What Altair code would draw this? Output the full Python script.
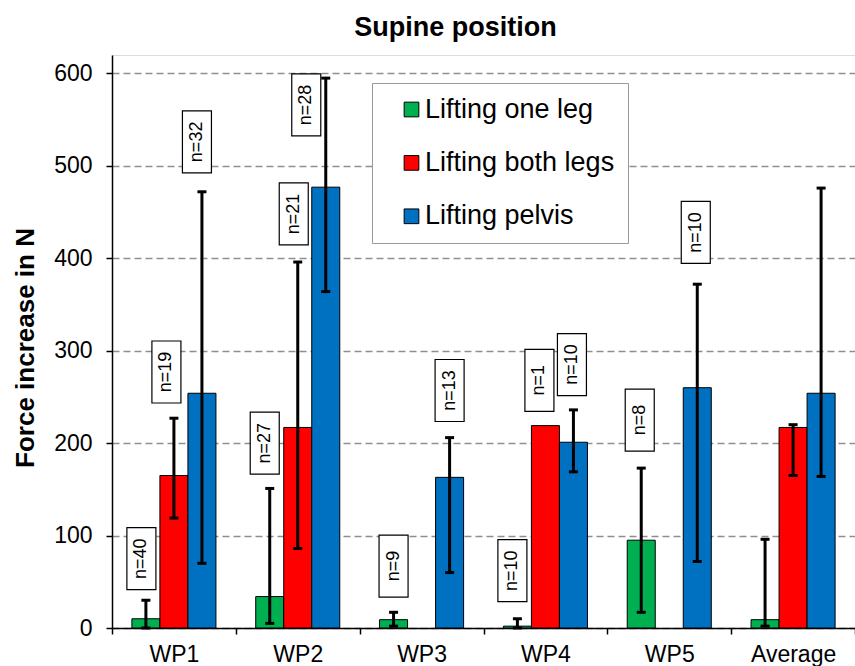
import altair as alt
import pandas as pd

# ---------------- data ----------------
groups = ["WP1", "WP2", "WP3", "WP4", "WP5", "Average"]
series = ["Lifting one leg", "Lifting both legs", "Lifting pelvis"]
colors = ["#00B050", "#FF0000", "#0070C0"]

one_leg_mean = [10, 34, 9, 2, 95, 9]
one_leg_low = [0, 5, 2, 0, 17, 2]
one_leg_high = [30, 151, 17, 10, 173, 96]

both_legs_mean = [165, 217, None, 219, None, 217]
both_legs_low = [119, 86, None, None, None, 165]
both_legs_high = [227, 396, None, None, None, 220]

pelvis_mean = [254, 477, 163, 201, 260, 254]
pelvis_low = [70, 364, 60, 169, 72, 164]
pelvis_high = [472, 595, 206, 236, 372, 476]

label_group = ["WP1", "WP1", "WP1", "WP2", "WP2", "WP2", "WP3", "WP3",
               "WP4", "WP4", "WP4", "WP5", "WP5"]
label_series = [0, 1, 2, 0, 1, 2, 0, 2, 0, 1, 2, 0, 2]
label_text = ["n=40", "n=19", "n=32", "n=27", "n=21", "n=28", "n=9", "n=13",
              "n=10", "n=1", "n=10", "n=8", "n=10"]
label_y = [75, 277, 526, 200, 448, 566, 67, 257, 62, 268, 285, 225, 428]
label_shift_px = [-4.5, -7.5, -5, -5, -4, -19.5, 0, 0, -5, -6, -1.5, -1.5, -1.5]

# ---------------- layout constants ----------------
PLOT_W = 743
PLOT_H = 573
FONT = "Liberation Sans, Arial, sans-serif"
OFFSET_PAD = 0.71
STEP = PLOT_W / len(groups)
BAR_FRAC = 1.0 / (len(series) + 2 * OFFSET_PAD)

# ---------------- tables ----------------
rows = []
for s, means, lows, highs in [
    (series[0], one_leg_mean, one_leg_low, one_leg_high),
    (series[1], both_legs_mean, both_legs_low, both_legs_high),
    (series[2], pelvis_mean, pelvis_low, pelvis_high),
]:
    for g, m, lo, hi in zip(groups, means, lows, highs):
        rows.append({"group": g, "series": s, "mean": m, "low": lo, "high": hi})
df = pd.DataFrame(rows)
bars_df = df.dropna(subset=["mean"])
err_df = df.dropna(subset=["low", "high"])

lab_rows = []
for g, si, t, y, sh in zip(label_group, label_series, label_text, label_y, label_shift_px):
    lx = groups.index(g) + 0.5 + (si - 1) * BAR_FRAC + sh / STEP
    lab_rows.append({"lx": lx, "ly": y, "text": t})
lab_df = pd.DataFrame(lab_rows)

# ---------------- encodings ----------------
y_scale = alt.Scale(domain=[0, 620], nice=False, zero=True)

x_enc = alt.X(
    "group:N",
    sort=groups,
    scale=alt.Scale(domain=groups, paddingInner=0, paddingOuter=0),
    axis=alt.Axis(
        title=None, tickBand="extent", labelAngle=0, labelFontSize=23,
        labelFont=FONT, labelColor="black", tickSize=6, tickColor="black",
        tickWidth=1.5, domainColor="black", domainWidth=1.5, labelPadding=9,
        grid=False,
    ),
)
xoff_enc = alt.XOffset(
    "series:N", sort=series,
    scale=alt.Scale(domain=series, paddingInner=0, paddingOuter=OFFSET_PAD),
)

bars = alt.Chart(bars_df).mark_bar(stroke="black", strokeWidth=1, opacity=1).encode(
    x=x_enc,
    xOffset=xoff_enc,
    y=alt.Y(
        "mean:Q", scale=y_scale,
        axis=alt.Axis(
            title="Force increase in N", values=[0, 100, 200, 300, 400, 500, 600],
            labelFontSize=23, labelFont=FONT, labelColor="black", labelPadding=14,
            tickSize=6, tickColor="black", tickWidth=1.5, domainColor="black",
            domainWidth=1.5, grid=True, gridColor="#8f8f8f", gridDash=[7, 4],
            gridWidth=1.3, titleFontSize=26, titleFont=FONT, titleFontWeight="bold",
            titleColor="black", titleAngle=270, titleAlign="center",
            titleBaseline="middle", titleX=-87, titleY=PLOT_H / 2 + 6,
        ),
    ),
    color=alt.Color(
        "series:N",
        scale=alt.Scale(domain=series, range=colors),
        legend=alt.Legend(
            title=None, orient="none", legendX=260, legendY=28,
            symbolType="square", symbolSize=216, symbolStrokeColor="black",
            symbolStrokeWidth=1, symbolOffset=13, labelOffset=0,
            labelFontSize=27, labelFont=FONT, labelColor="black", labelLimit=400,
            padding=13, rowPadding=25.4, strokeColor="#999999",
            fillColor="white",
        ),
    ),
)

rules = alt.Chart(err_df).mark_rule(color="black", strokeWidth=3).encode(
    x=alt.X("group:N", sort=groups), xOffset=xoff_enc,
    y=alt.Y("low:Q", scale=y_scale), y2="high:Q",
)
caps_hi = alt.Chart(err_df).mark_tick(color="black", thickness=3, size=9, opacity=1).encode(
    x=alt.X("group:N", sort=groups), xOffset=xoff_enc,
    y=alt.Y("high:Q", scale=y_scale),
)
caps_lo = alt.Chart(err_df).mark_tick(color="black", thickness=3, size=9, opacity=1).encode(
    x=alt.X("group:N", sort=groups), xOffset=xoff_enc,
    y=alt.Y("low:Q", scale=y_scale),
)

main = alt.layer(bars, rules, caps_hi, caps_lo)

box_path = "M-0.468,-1L0.468,-1L0.468,1L-0.468,1Z"
lx_enc = alt.X("lx:Q", scale=alt.Scale(domain=[0, len(groups)], nice=False, zero=False), axis=None)
boxes = alt.Chart(lab_df).mark_point(
    shape=box_path, size=62 * 62, filled=True, fill="white", stroke="black",
    strokeWidth=1.2, opacity=1,
).encode(x=lx_enc, y=alt.Y("ly:Q", scale=y_scale))
texts = alt.Chart(lab_df).mark_text(
    angle=270, fontSize=18, font=FONT, color="black", align="center", baseline="middle",
).encode(x=lx_enc, y=alt.Y("ly:Q", scale=y_scale), text="text:N")
labels = alt.layer(boxes, texts)

chart = (
    alt.layer(main, labels)
    .resolve_scale(x="independent")
    .properties(
        width=PLOT_W, height=PLOT_H,
        title=alt.TitleParams(
            "Supine position", fontSize=27, fontWeight="bold", font=FONT,
            color="black", anchor="middle", dx=-28, dy=29, baseline="alphabetic", offset=21,
        ),
        autosize=alt.AutoSizeParams(type="none"),
        padding={"left": 112, "top": 55, "right": 0, "bottom": 38},
    )
    .configure_view(stroke="black", strokeWidth=1.5)
    .configure(background="white")
)

chart.save("out.html", embed_options={"renderer": "svg", "actions": False})
